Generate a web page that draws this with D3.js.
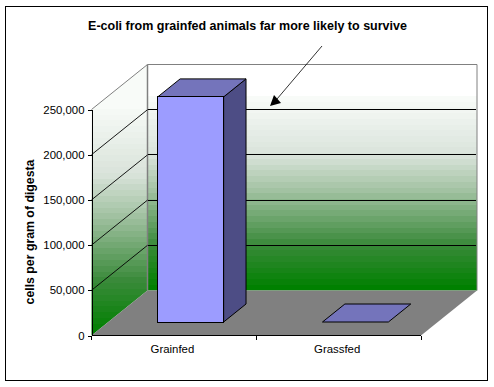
<html>
<head>
<script src="https://d3js.org/d3.v7.min.js"></script>
<style>
    body { margin: 0; background: white; overflow: hidden; }
    text { font-family: "Liberation Sans", Arial, sans-serif; fill: black; }
    .axis text { font-size: 11.4px; }
    .axis path, .axis line { stroke: black; shape-rendering: crispEdges; }
</style>
</head>
<body>
    <svg id="chart" width="494" height="387"></svg>
<script>
    const categories = ["Grainfed", "Grassfed"];
    const cells = [249000, 0];
    const tickValues = [0, 50000, 100000, 150000, 200000, 250000];
    const titleText = "E-coli from grainfed animals far more likely to survive";
    const yTitle = "cells per gram of digesta";

    // wall colours, bottom of the wall is t=1
    const wallStops = ["#f8fbf8", "#d9e3da", "#9dbf9d", "#3a8a3a", "#008000"];
    const wallStopAt = [0, 0.3, 0.5, 0.77, 1];

    const svg = d3.select("#chart");

    // outer frame
    svg.append("rect")
        .attr("x", 5.5).attr("y", 6.5).attr("width", 482).attr("height", 374)
        .attr("fill", "white").attr("stroke", "black").attr("stroke-width", 1)
        .attr("shape-rendering", "crispEdges");

    const plotLeft = 91.5, plotRight = 421, plotBase = 335.5, plotTop = 109.5;
    const depthX = 56, depthY = -45;

    const y = d3.scaleLinear().domain([0, 250000]).range([plotBase, plotTop]);
    const x = d3.scaleBand().domain(categories).range([plotLeft, plotRight])
        .paddingInner(0.6).paddingOuter(0.3);

    const line = d3.line();
    const wallColor = d3.scaleLinear().domain(wallStopAt).range(wallStops).interpolate(d3.interpolateRgb);

    // stepped gradient, the original has visible bands
    const defs = svg.append("defs");
    function bandGradient(id, y1, y2, bands) {
        const g = defs.append("linearGradient").attr("id", id)
            .attr("gradientUnits", "userSpaceOnUse")
            .attr("x1", 0).attr("x2", 0).attr("y1", y1).attr("y2", y2);
        d3.range(bands).forEach(i => {
            const c = wallColor(i / (bands - 1));
            g.append("stop").attr("offset", i / bands).attr("stop-color", c);
            g.append("stop").attr("offset", (i + 1) / bands).attr("stop-color", c);
        });
    }
    bandGradient("backWall", 96, plotBase + depthY, 34);
    bandGradient("sideWall", 103, plotBase, 40);

    // back wall
    svg.append("rect").attr("x", plotLeft + depthX).attr("y", 96)
        .attr("width", plotRight - plotLeft).attr("height", plotBase + depthY - 96)
        .attr("fill", "url(#backWall)");

    // side wall
    svg.append("path")
        .attr("d", line([[plotLeft, plotBase], [plotLeft + depthX, plotBase + depthY], [plotLeft + depthX, plotTop + depthY], [plotLeft, plotTop]]) + "Z")
        .attr("fill", "url(#sideWall)");

    // floor
    svg.append("path")
        .attr("d", line([[plotLeft, plotBase], [plotLeft + depthX, plotBase + depthY], [plotRight + depthX, plotBase + depthY], [plotRight, plotBase]]) + "Z")
        .attr("fill", "#808080");

    // wall outlines
    svg.append("path")
        .attr("d", line([[plotLeft, plotTop], [plotLeft + depthX, plotTop + depthY], [plotRight + depthX, plotTop + depthY], [plotRight + depthX, plotBase + depthY]]))
        .attr("fill", "none").attr("stroke", "#808080");
    svg.append("line")
        .attr("x1", plotLeft + depthX).attr("x2", plotLeft + depthX)
        .attr("y1", plotTop + depthY).attr("y2", plotBase + depthY)
        .attr("stroke", "#808080").attr("stroke-width", 1.5);

    // grid lines, side wall then back wall
    tickValues.slice(1, -1).forEach(d => {
        svg.append("line")
            .attr("x1", plotLeft).attr("y1", y(d))
            .attr("x2", plotLeft + depthX).attr("y2", y(d) + depthY)
            .attr("stroke", "black").attr("stroke-width", 0.9);
    });
    tickValues.slice(1, -1).forEach(d => {
        svg.append("line")
            .attr("x1", plotLeft + depthX).attr("x2", plotRight + depthX - 1)
            .attr("y1", y(d) + depthY).attr("y2", y(d) + depthY)
            .attr("stroke", "black").attr("shape-rendering", "crispEdges");
    });

    // bars sit between 30% and 70% of the depth
    const near = 0.3, far = 0.7;
    const px = (d, f) => x(d) + depthX * f;
    const py = (v, f) => y(v) + depthY * f;

    svg.selectAll("g.bar").data(categories).join("g").attr("class", "bar")
        .each(function (d, i) {
            const g = d3.select(this);
            const v = cells[i];
            const w = x.bandwidth();
            const x0 = px(d, near), x1 = x0 + w;
            const x2 = px(d, far) + w, x3 = px(d, far);
            if (v > 0) {
                g.append("path")
                    .attr("d", line([[x1, py(v, near)], [x2, py(v, far)], [x2, py(0, far)], [x1, py(0, near)]]) + "Z")
                    .attr("fill", "#4d4d85");
                g.append("path")
                    .attr("d", line([[x0, py(v, near)], [x3, py(v, far)], [x2, py(v, far)], [x1, py(v, near)]]) + "Z")
                    .attr("fill", "#7474bb");
                g.append("rect").attr("x", x0).attr("y", py(v, near))
                    .attr("width", w).attr("height", y(0) - y(v))
                    .attr("fill", "#9c9cff")
                    .attr("shape-rendering", "crispEdges");
            } else {
                g.append("path")
                    .attr("d", line([[x0, py(v, near)], [x3, py(v, far)], [x2, py(v, far)], [x1, py(v, near)]]) + "Z")
                    .attr("fill", "#7474bb");
            }
            g.selectAll("path,rect").attr("stroke", "black").attr("stroke-width", 1);
        });

    // axes
    svg.append("g").attr("class", "axis")
        .attr("transform", "translate(" + plotLeft + ",0)")
        .call(d3.axisLeft(y).tickValues(tickValues).tickFormat(d3.format(",")).tickSize(4).tickSizeOuter(0));

    const xAxis = svg.append("g").attr("class", "axis")
        .attr("transform", "translate(0," + plotBase + ")")
        .call(d3.axisBottom(x).tickSize(0).tickPadding(9));
    xAxis.selectAll(".domain").attr("d", "M" + plotLeft + ",0H" + plotRight);
    xAxis.selectAll(".tick text").attr("dx", -1.5);
    [plotLeft, (plotLeft + plotRight) / 2, plotRight].forEach(t => {
        xAxis.append("line").attr("x1", t).attr("x2", t).attr("y1", 0).attr("y2", 4);
    });

    // title
    svg.append("text").attr("x", 247.5).attr("y", 30)
        .attr("text-anchor", "middle")
        .style("font-size", "12.5px").style("font-weight", "bold")
        .text(titleText);

    svg.append("text")
        .attr("transform", "translate(33.5,232) rotate(-90)")
        .attr("text-anchor", "middle")
        .style("font-size", "12.3px").style("font-weight", "bold")
        .text(yTitle);

    // arrow annotation
    svg.append("line")
        .attr("x1", 322).attr("y1", 46).attr("x2", 277).attr("y2", 99)
        .attr("stroke", "black").attr("stroke-width", 0.8);
    svg.append("path")
        .attr("d", line([[270, 106], [274, 95], [281, 103]]) + "Z")
        .attr("fill", "black");
</script>
</body>
</html>
